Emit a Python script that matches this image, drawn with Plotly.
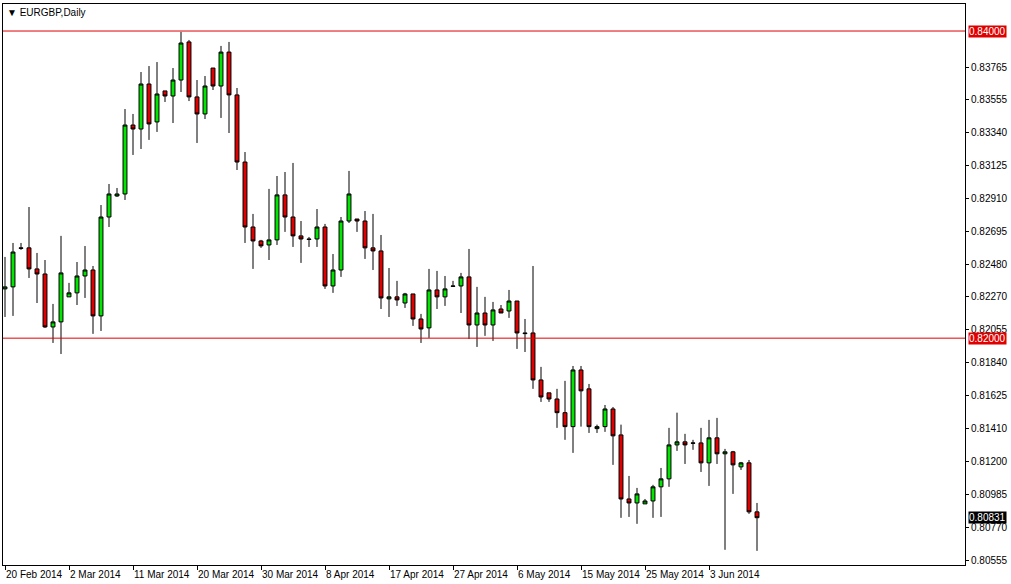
import pandas as pd
import plotly.graph_objects as go

# EURGBP daily, 20 Feb 2014 - 10 Jun 2014 (broker includes Sunday bars)
opens = [0.82321, 0.82334, 0.82588, 0.82588, 0.82451, 0.82418, 0.82073, 0.82106, 0.82269, 0.82295,
         0.82405, 0.82444, 0.82145, 0.82789, 0.82926, 0.82939, 0.83388, 0.83362, 0.83655, 0.83408,
         0.83610, 0.83577, 0.83681, 0.83929, 0.83571, 0.83460, 0.83759, 0.83642, 0.83863, 0.83584,
         0.83147, 0.82724, 0.82633, 0.82607, 0.82640, 0.82933, 0.82789, 0.82666, 0.82646, 0.82646,
         0.82724, 0.82340, 0.82444, 0.82763, 0.82776, 0.82763, 0.82588, 0.82568, 0.82256, 0.82269,
         0.82229, 0.82288, 0.82125, 0.82067, 0.82314, 0.82269, 0.82340, 0.82340, 0.82399, 0.82086,
         0.82164, 0.82086, 0.82190, 0.82177, 0.82242, 0.82034, 0.82034, 0.81728, 0.81644, 0.81604,
         0.81515, 0.81424, 0.81793, 0.81670, 0.81411, 0.81424, 0.81539, 0.81370, 0.80953, 0.80927,
         0.80921, 0.80940, 0.81032, 0.81084, 0.81305, 0.81325, 0.81318, 0.81318, 0.81188, 0.81351,
         0.81247, 0.81260, 0.81162, 0.81188, 0.80869]
highs = [0.82529, 0.82620, 0.82620, 0.82854, 0.82555, 0.82509, 0.82223, 0.82666, 0.82360, 0.82496,
         0.82600, 0.82470, 0.82867, 0.83004, 0.82978, 0.83492, 0.83460, 0.83733, 0.83772, 0.83798,
         0.83610, 0.83759, 0.83994, 0.83942, 0.83681, 0.83707, 0.83759, 0.83903, 0.83929, 0.83629,
         0.83212, 0.82809, 0.82640, 0.82972, 0.83056, 0.83082, 0.83141, 0.82763, 0.82659, 0.82841,
         0.82744, 0.82548, 0.82789, 0.83089, 0.82776, 0.82828, 0.82809, 0.82672, 0.82457, 0.82373,
         0.82295, 0.82288, 0.82158, 0.82451, 0.82438, 0.82405, 0.82373, 0.82425, 0.82581, 0.82334,
         0.82269, 0.82236, 0.82216, 0.82314, 0.82242, 0.82125, 0.82470, 0.81813, 0.81644, 0.81670,
         0.81722, 0.81819, 0.81819, 0.81702, 0.81437, 0.81565, 0.81552, 0.81437, 0.81103, 0.81025,
         0.80953, 0.81045, 0.81155, 0.81416, 0.81515, 0.81377, 0.81338, 0.81416, 0.81468, 0.81481,
         0.81279, 0.81266, 0.81194, 0.81207, 0.80927]
lows = [0.82138, 0.82145, 0.82575, 0.82392, 0.82229, 0.82067, 0.81969, 0.81897, 0.82269, 0.82216,
        0.82262, 0.82028, 0.82047, 0.82724, 0.82920, 0.82900, 0.83193, 0.83232, 0.83291, 0.83343,
        0.83538, 0.83401, 0.83603, 0.83544, 0.83271, 0.83427, 0.83616, 0.83434, 0.83336, 0.83095,
        0.82620, 0.82451, 0.82588, 0.82509, 0.82607, 0.82692, 0.82594, 0.82490, 0.82594, 0.82594,
        0.82321, 0.82295, 0.82399, 0.82750, 0.82692, 0.82516, 0.82444, 0.82190, 0.82138, 0.82210,
        0.82197, 0.82080, 0.81969, 0.82002, 0.82190, 0.82210, 0.82334, 0.82164, 0.81995, 0.81943,
        0.82015, 0.81982, 0.82164, 0.82132, 0.81930, 0.81910, 0.81670, 0.81585, 0.81585, 0.81416,
        0.81338, 0.81253, 0.81424, 0.81383, 0.81383, 0.81390, 0.81175, 0.80830, 0.80836, 0.80791,
        0.80921, 0.80830, 0.80836, 0.81032, 0.81266, 0.81181, 0.81273, 0.81129, 0.81038, 0.81181,
        0.80622, 0.80986, 0.81142, 0.80856, 0.80615]
closes = [0.82334, 0.82561, 0.82585, 0.82451, 0.82418, 0.82073, 0.82106, 0.82425, 0.82295, 0.82405,
          0.82444, 0.82145, 0.82789, 0.82939, 0.82939, 0.83388, 0.83362, 0.83655, 0.83395, 0.83590,
          0.83577, 0.83681, 0.83922, 0.83571, 0.83460, 0.83642, 0.83642, 0.83863, 0.83584, 0.83147,
          0.82724, 0.82633, 0.82601, 0.82640, 0.82933, 0.82789, 0.82666, 0.82646, 0.82643, 0.82724,
          0.82340, 0.82444, 0.82763, 0.82939, 0.82763, 0.82588, 0.82568, 0.82262, 0.82269, 0.82249,
          0.82288, 0.82125, 0.82060, 0.82314, 0.82269, 0.82321, 0.82338, 0.82399, 0.82086, 0.82164,
          0.82086, 0.82184, 0.82164, 0.82242, 0.82034, 0.82030, 0.81728, 0.81617, 0.81604, 0.81515,
          0.81424, 0.81793, 0.81657, 0.81424, 0.81424, 0.81539, 0.81364, 0.80953, 0.80927, 0.80986,
          0.80940, 0.81032, 0.81084, 0.81305, 0.81325, 0.81305, 0.81316, 0.81188, 0.81351, 0.81247,
          0.81260, 0.81175, 0.81188, 0.80869, 0.80831]

level_lines = [0.84000, 0.82000]
last_price = 0.80831
ytick_vals = [0.80555, 0.80770, 0.80985, 0.81200, 0.81410, 0.81625, 0.81840, 0.82055,
              0.82270, 0.82480, 0.82695, 0.82910, 0.83125, 0.83340, 0.83555, 0.83765]

# bar dates: every day except Saturday
days = pd.date_range("2014-02-20", periods=120, freq="D")
days = days[days.dayofweek != 5][:len(closes)]
cats = [d.strftime("%Y-%m-%d") for d in days]

fig = go.Figure(go.Candlestick(
    x=cats, open=opens, high=highs, low=lows, close=closes,
    increasing=dict(line=dict(color="black", width=1), fillcolor="#00E600"),
    decreasing=dict(line=dict(color="black", width=1), fillcolor="#E00000"),
    whiskerwidth=0, hoverinfo="x+y",
))

FAM = "Liberation Sans"
font = dict(family=FAM, size=10, color="black")

for lv in level_lines:
    fig.add_shape(type="line", xref="paper", x0=0, x1=1, y0=lv, y1=lv,
                  line=dict(color="#E00000", width=1))
    fig.add_annotation(xref="paper", x=1.003, y=lv, text=f"{lv:.5f}", showarrow=False,
                       xanchor="left", bgcolor="#E00000", font=dict(family=FAM, size=10, color="white"),
                       borderpad=0)
fig.add_annotation(xref="paper", x=1.003, y=last_price, text=f"{last_price:.5f}", showarrow=False,
                   xanchor="left", bgcolor="black", font=dict(family=FAM, size=10, color="white"),
                   borderpad=0)

# date labels every 8 bars, text to the right of the tick as in MT4
for i in range(0, len(cats), 8):
    fig.add_annotation(x=i, xref="x", y=-0.004, yref="paper", text=days[i].strftime("%-d %b %Y"),
                       showarrow=False, xanchor="left", yanchor="top", xshift=-1, font=font)

fig.add_annotation(xref="paper", yref="paper", x=0.002, y=0.998, text="▼ EURGBP,Daily",
                   showarrow=False, xanchor="left", yanchor="top", font=font)

fig.update_layout(
    width=1011, height=584,
    margin=dict(l=3, r=46, t=4, b=19),
    paper_bgcolor="white", plot_bgcolor="white",
    showlegend=False,
    xaxis=dict(type="category", rangeslider=dict(visible=False), showgrid=False, automargin=False,
               range=[-0.25, 120], tickvals=list(range(0, len(cats), 8)), ticktext=[""] * 12,
               ticks="outside", ticklen=4, tickcolor="black",
               showline=True, linecolor="black", mirror=True, zeroline=False),
    yaxis=dict(side="right", range=[0.80523, 0.84176], showgrid=False, tickvals=ytick_vals,
               tickformat=".5f", ticks="outside", ticklen=3, tickcolor="black", tickfont=font,
               automargin=False,
               showline=True, linecolor="black", mirror=True, zeroline=False),
)

fig.write_html("out.html", config={"displayModeBar": False},
               post_script="document.body.style.margin='0';")
